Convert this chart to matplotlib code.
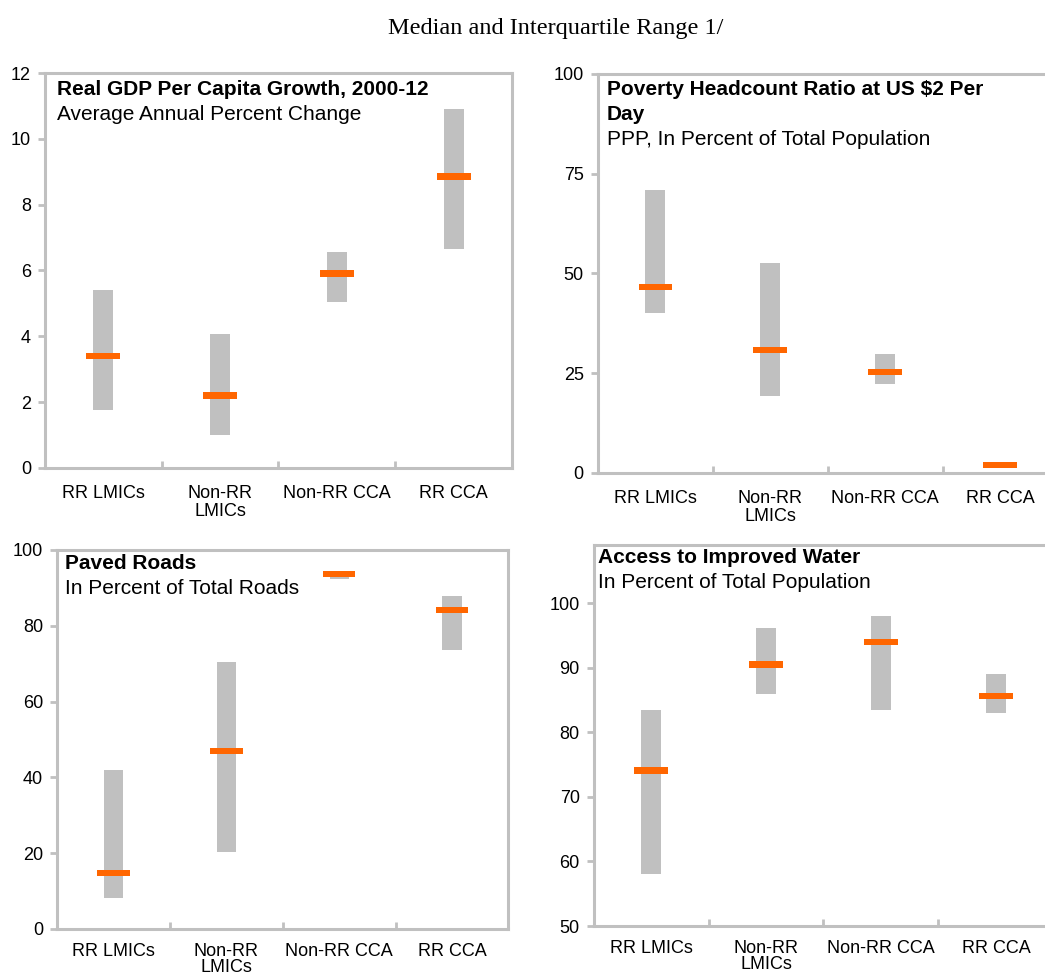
import numpy as np
import matplotlib.pyplot as plt

categories = ["RR LMICs", "Non-RR\nLMICs", "Non-RR CCA", "RR CCA"]

# panel 1: real GDP per capita growth
gdp_q1 = [1.75, 1.0, 5.05, 6.65]
gdp_q3 = [5.4, 4.08, 6.55, 10.9]
gdp_med = [3.4, 2.2, 5.9, 8.85]

# panel 2: poverty headcount
pov_q1 = [40.0, 19.2, 22.2, 1.5]
pov_q3 = [70.9, 52.6, 29.8, 2.5]
pov_med = [46.6, 30.8, 25.3, 2.0]

# panel 3: paved roads
road_q1 = [8.1, 20.2, 92.3, 73.5]
road_q3 = [42.0, 70.4, 94.0, 87.9]
road_med = [14.8, 46.9, 93.6, 84.1]

# panel 4: improved water
water_q1 = [58.1, 86.0, 83.5, 83.0]
water_q3 = [83.4, 96.1, 98.0, 89.0]
water_med = [74.1, 90.5, 94.0, 85.6]

plt.rcParams['font.family'] = ['Liberation Sans', 'DejaVu Sans']

fig = plt.figure(figsize=(10.45, 9.76), dpi=100)
fig.text(0.532, 0.971, "Median and Interquartile Range 1/", ha='center', va='center',
         family=['Liberation Serif', 'DejaVu Serif'], fontsize=17.5)

grey = '#c0c0c0'
orange = '#ff6600'


def panel(rect, q1, q3, med, ylim, yticks, title_lines, subtitle, dx, dy,
          right_spine=True, lsp=1.1, xpad=12):
    ax = fig.add_axes(rect)
    x = np.arange(len(categories))
    q1 = np.array(q1)
    q3 = np.array(q3)
    ax.bar(x, q3 - q1, bottom=q1, width=0.17, color=grey, zorder=2)
    med_h = (ylim[1] - ylim[0]) * 0.017
    ax.bar(x, med_h, bottom=np.array(med) - med_h / 2, width=0.29, color=orange, zorder=3)
    ax.set_xlim(-0.5, 3.5)
    ax.set_ylim(*ylim)
    ax.set_yticks(yticks)
    ax.set_xticks(x)
    ax.set_xticklabels(categories, fontsize=13, linespacing=lsp)
    ax.set_xticks([0.5, 1.5, 2.5], minor=True)
    ax.tick_params(axis='x', which='major', length=0, pad=xpad)
    ax.tick_params(axis='x', which='minor', direction='in', length=5, width=2, color=grey)
    ax.tick_params(axis='y', direction='out', length=5, width=2, color=grey, labelsize=13, pad=5)
    for s in ax.spines.values():
        s.set_color(grey)
        s.set_linewidth(2.2)
    if not right_spine:
        ax.spines['right'].set_visible(False)
    # title lines (bold) then subtitle, 25 px apart
    lines = [(t, 'bold') for t in title_lines] + [(subtitle, 'normal')]
    for i, (txt, w) in enumerate(lines):
        ax.annotate(txt, (0, 1), xycoords='axes fraction', xytext=(dx, -dy - 25 * i),
                    textcoords='offset pixels', ha='left', va='top',
                    fontsize=15, fontweight=w)
    return ax


panel([0.043, 0.5205, 0.447, 0.4047], gdp_q1, gdp_q3, gdp_med, (0, 12), range(0, 13, 2),
      ["Real GDP Per Capita Growth, 2000-12"], "Average Annual Percent Change", 12, 7)
panel([0.572, 0.5154, 0.44, 0.4088], pov_q1, pov_q3, pov_med, (0, 100), range(0, 101, 25),
      ["Poverty Headcount Ratio at US $2 Per", "Day"], "PPP, In Percent of Total Population",
      9, 6, right_spine=False)
panel([0.0545, 0.0482, 0.432, 0.3883], road_q1, road_q3, road_med, (0, 100), range(0, 101, 20),
      ["Paved Roads"], "In Percent of Total Roads", 8, 4, lsp=0.95, xpad=10)
panel([0.568, 0.0512, 0.44, 0.3904], water_q1, water_q3, water_med, (50, 109), range(50, 101, 10),
      ["Access to Improved Water"], "In Percent of Total Population", 4, 3,
      right_spine=False, lsp=0.95, xpad=10)

fig.savefig("out.png", dpi=100)
